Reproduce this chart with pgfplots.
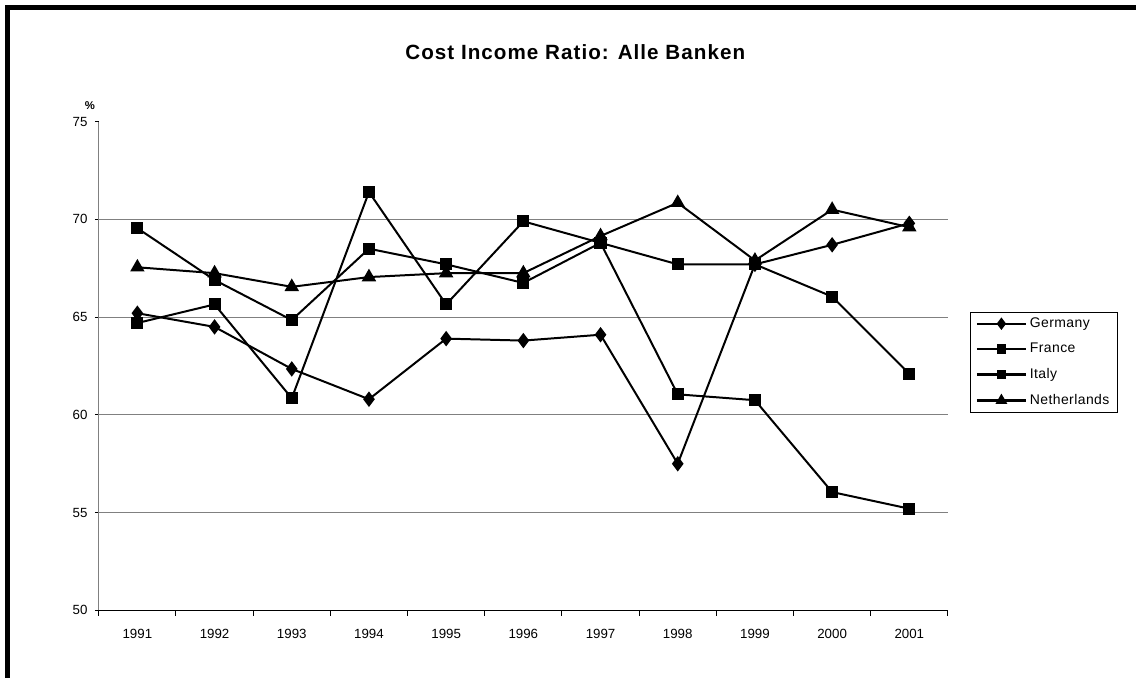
\documentclass[border=0pt]{standalone}
\usepackage{fontspec}
\setmainfont{Liberation Sans}
\usepackage{pgfplots}
\pgfplotsset{compat=1.18}
\definecolor{gridgray}{RGB}{128,128,128}

\begin{document}
\begin{tikzpicture}
% canvas: 1 px of the reference = 0.75pt
\path (0,0) rectangle (853.5pt,509.25pt);
\draw[line width=3.75pt] (5.6pt,0pt) -- (5.6pt,503.6pt) -- (853.5pt,503.6pt);
\node[anchor=base, font=\bfseries\fontsize{15.5}{18}\selectfont\addfontfeatures{LetterSpace=5}]
    at (432.4pt,464.25pt) {Cost Income Ratio: Alle Banken};
\node[font=\bfseries\fontsize{8.5}{10}\selectfont] at (67.5pt,429.5pt) {\%};

\begin{axis}[
    at={(74.25pt,50.5pt)}, anchor=origin,
    scale only axis,
    width=638.25pt, height=367.3pt,
    xmin=0.5, xmax=11.5,
    ymin=50, ymax=75,
    xtick={1,...,11},
    xticklabels={1991,1992,1993,1994,1995,1996,1997,1998,1999,2000,2001},
    minor xtick={0.5,1.5,...,11.5},
    ytick={50,55,...,75},
    extra y ticks={55,60,65,70},
    extra y tick labels={},
    extra y tick style={grid=major, major tick length=0pt},
    grid style={gridgray, line width=0.75pt},
    axis x line=bottom, axis y line=left,
    axis line style={-},
    x axis line style={black, line width=0.9pt},
    y axis line style={gridgray, line width=0.9pt},
    tick align=outside,
    x tick style={draw=none},
    minor x tick style={draw=black, line width=0.75pt},
    minor tick length=4pt,
    major tick length=3pt,
    y tick style={black, line width=0.75pt},
    tick label style={font=\fontsize{10}{12}\selectfont},
    /pgf/number format/assume math mode=true,
    xticklabel style={yshift=-8pt},
    yticklabel style={xshift=-2pt},
    legend cell align=left,
    legend style={at={(1.026,0.61)}, anchor=north west, draw=black,
        font=\fontsize{10.5}{12}\selectfont\addfontfeatures{LetterSpace=3},
        inner xsep=4pt, inner ysep=2pt, row sep=6.3pt},
    legend image code/.code={\draw[mark repeat=2,mark phase=2,#1,line width=1.8pt,
        every mark/.append style={scale=0.7}]
        plot coordinates {(0pt,0pt)(18.5pt,0pt)(37pt,0pt)};},
]
\addplot[black, line width=1.5pt, mark=diamond*, mark size=4.6pt, mark options={solid}] coordinates {
    (1,65.2) (2,64.5) (3,62.35) (4,60.8) (5,63.9) (6,63.8)
    (7,64.1) (8,57.5) (9,67.7) (10,68.7) (11,69.8)
};
\addlegendentry{Germany}
\addplot[black, line width=1.5pt, mark=square*, mark size=3.8pt, mark options={solid}] coordinates {
    (1,69.55) (2,66.9) (3,64.85) (4,68.5) (5,67.7) (6,66.75)
    (7,68.8) (8,67.7) (9,67.7) (10,66.05) (11,62.1)
};
\addlegendentry{France}
\addplot[black, line width=1.5pt, mark=square*, mark size=3.8pt, mark options={solid}] coordinates {
    (1,64.7) (2,65.65) (3,60.85) (4,71.4) (5,65.65) (6,69.9)
    (7,68.8) (8,61.05) (9,60.75) (10,56.05) (11,55.2)
};
\addlegendentry{Italy}
\addplot[black, line width=1.5pt, mark=triangle*, mark size=4.8pt, mark options={solid}] coordinates {
    (1,67.55) (2,67.25) (3,66.55) (4,67.05) (5,67.25) (6,67.25)
    (7,69.15) (8,70.85) (9,67.9) (10,70.5) (11,69.6)
};
\addlegendentry{Netherlands}
\end{axis}
\end{tikzpicture}
\end{document}
